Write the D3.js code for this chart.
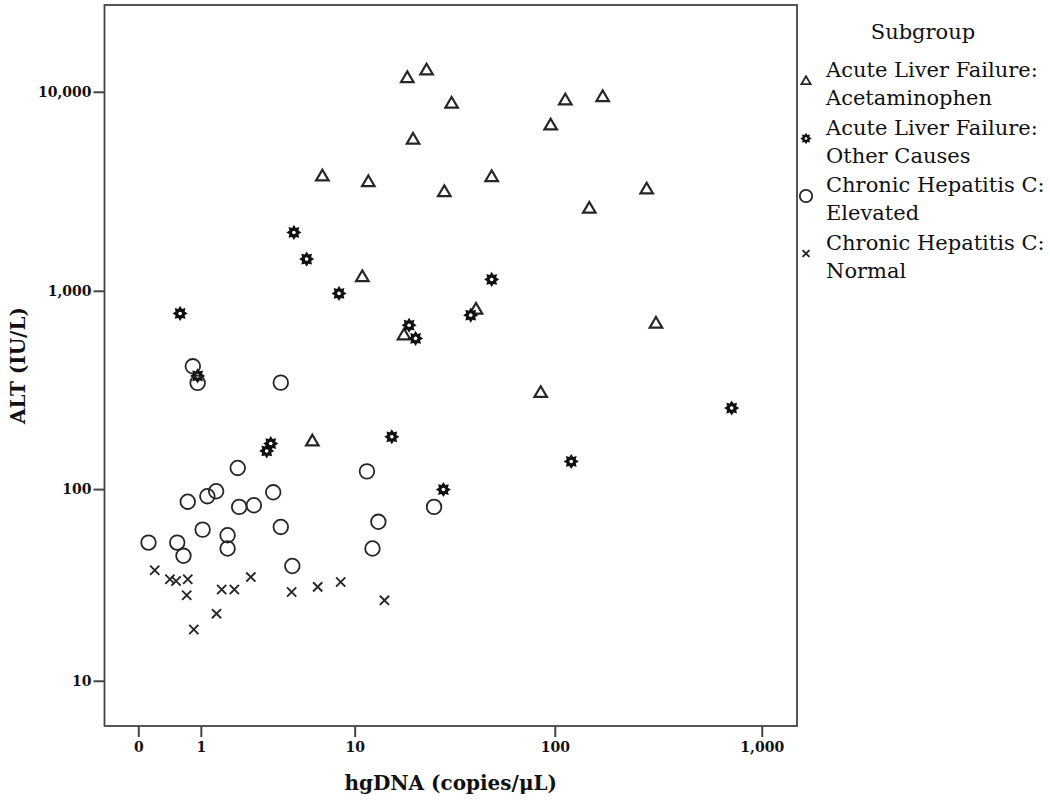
<!DOCTYPE html>
<html>
<head>
<meta charset="utf-8">
<script src="https://cdn.jsdelivr.net/npm/d3@7"></script>
<style>
  html, body { margin: 0; padding: 0; background: #fff; }
  svg { display: block; }
</style>
</head>
<body>
<svg id="chart" width="1050" height="802"></svg>
<script>
// ---- Data (hgDNA copies/uL, ALT IU/L) ----
const seriesNames = [
  ["Acute Liver Failure:", "Acetaminophen"],
  ["Acute Liver Failure:", "Other Causes"],
  ["Chronic Hepatitis C:", "Elevated"],
  ["Chronic Hepatitis C:", "Normal"]
];
const acetaminophenDNA = [18.7, 23.4, 31.2, 20.0, 112.5, 170.7, 95.5, 49.2, 28.7, 278.6, 147.1, 6.69, 11.8, 10.97, 41.2, 18.0, 308.9, 85.4, 5.88];
const acetaminophenALT = [11760, 12850, 8745, 5766, 9084, 9438, 6803, 3740, 3145, 3245, 2595, 3771, 3528, 1176, 806, 599, 686, 307, 175];

const otherDNA = [4.61, 5.46, 8.25, 0.59, 0.93, 3.34, 3.15, 15.6, 49.2, 38.8, 19.1, 20.6, 716, 120.2, 28.4];
const otherALT = [1965, 1443, 970, 769, 373, 170, 156, 184, 1140, 754, 671, 576, 257, 138, 99.5];

const elevatedDNA = [0.83, 0.93, 3.85, 2.01, 11.6, 0.73, 1.15, 1.37, 3.46, 2.06, 2.6, 25.5, 13.3, 0.12, 0.54, 0.65, 1.04, 1.69, 1.69, 3.85, 12.4, 4.51];
const elevatedALT = [417, 344, 345, 128, 123, 86.3, 92.0, 97.5, 96.3, 81.2, 82.8, 81.2, 68.2, 53.4, 53.4, 45.7, 62.2, 58.2, 49.8, 64.2, 49.8, 40.5];

const normalDNA = [0.20, 0.42, 0.52, 0.73, 0.71, 0.85, 1.38, 1.52, 1.9, 2.48, 4.47, 6.3, 8.42, 14.3];
const normalALT = [38.5, 34.6, 33.9, 34.6, 28.6, 18.9, 22.9, 30.6, 30.6, 35.5, 29.7, 31.6, 33.5, 26.9];

const xTicks = [0, 1, 10, 100, 1000];
const yTicks = [10, 100, 1000, 10000];
const xAxisLimits = [-0.454, 1478];   // axis range in data units (log10(v+1) scale)
const yAxisLimits = [5.52, 27290];

const xTitle = "hgDNA (copies/\u03BCL)";
const yTitle = "ALT (IU/L)";
const legendTitle = "Subgroup";

// ---- Layout ----
const svg = d3.select("#chart");
const plot = { left: 104.5, right: 797, top: 5, bottom: 726 };
const ink = "#262626";
const serif = "'DejaVu Serif', serif";

const x = d3.scaleSymlog().constant(1).domain(xAxisLimits).range([plot.left, plot.right]);
const y = d3.scaleSymlog().constant(1).domain(yAxisLimits).range([plot.bottom, plot.top]);

// frame
svg.append("rect")
  .attr("x", plot.left).attr("y", plot.top)
  .attr("width", plot.right - plot.left).attr("height", plot.bottom - plot.top)
  .attr("fill", "none").attr("stroke", "#444").attr("stroke-width", 1.8);

// axes
const fmt = d3.format(",");
const yAxis = svg.append("g").attr("transform", `translate(${plot.left},0)`)
  .call(d3.axisLeft(y).tickValues(yTicks).tickFormat(fmt).tickSize(11).tickPadding(2));
const xAxis = svg.append("g").attr("transform", `translate(0,${plot.bottom})`)
  .call(d3.axisBottom(x).tickValues(xTicks).tickFormat(fmt).tickSize(11).tickPadding(5));
[xAxis, yAxis].forEach(g => {
  g.select(".domain").remove();
  g.selectAll(".tick line").attr("stroke", "#444").attr("stroke-width", 2);
  g.selectAll(".tick text").attr("fill", "#111")
    .style("font-family", serif).style("font-weight", "bold").style("font-size", "14px");
});

// axis titles
svg.append("text")
  .attr("x", (plot.left + plot.right) / 2).attr("y", 790)
  .attr("text-anchor", "middle")
  .style("font-family", serif).style("font-weight", "bold").style("font-size", "20px")
  .attr("fill", "#111").text(xTitle);
svg.append("text")
  .attr("transform", `translate(25,${(plot.top + plot.bottom) / 2}) rotate(-90)`)
  .attr("text-anchor", "middle")
  .style("font-family", serif).style("font-weight", "bold").style("font-size", "20px")
  .attr("fill", "#111").text(yTitle);

// ---- marker shapes ----
function starPath(ro, ri, n) {
  const pts = [];
  for (let i = 0; i < 2 * n; i++) {
    const r = i % 2 === 0 ? ro : ri;
    const a = Math.PI * i / n - Math.PI / 2;
    pts.push([r * Math.cos(a), r * Math.sin(a)]);
  }
  return "M" + pts.map(p => p[0].toFixed(2) + "," + p[1].toFixed(2)).join("L") + "Z";
}
function triPath(w) {
  const h = w * 0.85;
  return `M0,${-h * 0.6}L${w / 2},${h * 0.4}L${-w / 2},${h * 0.4}Z`;
}
function drawMarker(g, kind, s) {
  if (kind === 0) {
    g.append("path").attr("d", triPath(12.5 * s)).attr("fill", "none")
      .attr("stroke", ink).attr("stroke-width", 2.2 * Math.max(s, 0.8)).attr("stroke-linejoin", "miter");
  } else if (kind === 1) {
    g.append("path").attr("d", starPath(7.6 * s, 4.9 * s, 8)).attr("fill", "#111");
    g.append("circle").attr("r", 1.8 * s).attr("fill", "#fff");
  } else if (kind === 2) {
    g.append("circle").attr("r", 7.3 * s).attr("fill", "none").attr("stroke", ink).attr("stroke-width", 1.8);
  } else {
    const d = 4.6 * s;
    g.append("path").attr("d", `M${-d},${-d}L${d},${d}M${-d},${d}L${d},${-d}`)
      .attr("stroke", ink).attr("stroke-width", 1.9).attr("fill", "none");
  }
}

const series = [
  { xs: acetaminophenDNA, ys: acetaminophenALT },
  { xs: otherDNA, ys: otherALT },
  { xs: elevatedDNA, ys: elevatedALT },
  { xs: normalDNA, ys: normalALT }
];

series.forEach((s, k) => {
  const pts = s.xs.map((v, i) => [v, s.ys[i]]);
  svg.append("g").selectAll("g").data(pts).join("g")
    .attr("transform", d => `translate(${x(d[0])},${y(d[1])})`)
    .each(function () { drawMarker(d3.select(this), k, 1); });
});

// ---- legend ----
const leg = svg.append("g");
leg.append("text").attr("x", 923).attr("y", 39).attr("text-anchor", "middle")
  .style("font-family", serif).style("font-size", "21px").attr("fill", "#111").text(legendTitle);
const legTop = 77, lineH = 28, blockH = 57.5;
seriesNames.forEach((lines, k) => {
  const by = legTop + k * blockH;
  lines.forEach((t, j) => {
    leg.append("text").attr("x", 826).attr("y", by + j * lineH)
      .style("font-family", serif).style("font-size", "21px").attr("fill", "#111").text(t);
  });
  const mg = leg.append("g").attr("transform", `translate(806,${by + 4})`);
  drawMarker(mg, k, k === 2 ? 0.85 : 0.75);
});
</script>
</body>
</html>
